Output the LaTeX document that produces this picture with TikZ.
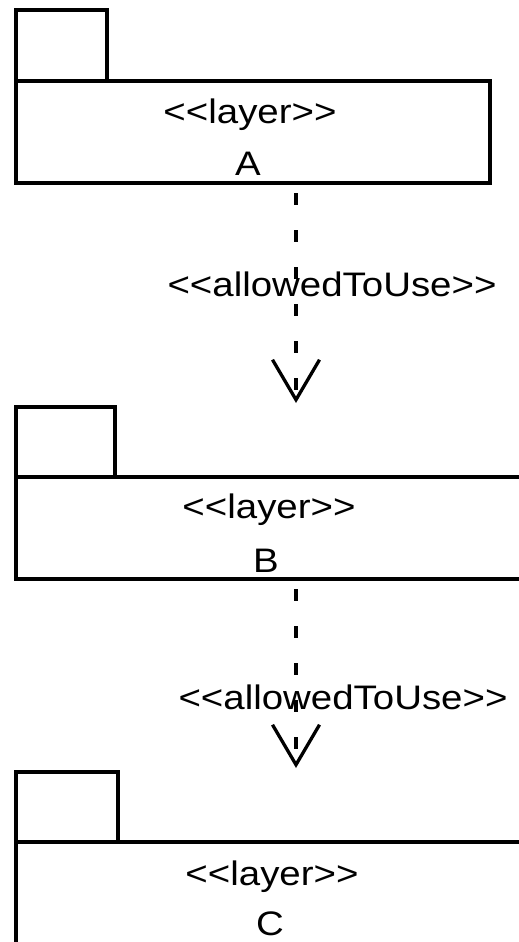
\documentclass[tikz,border=0pt]{standalone}
\usepackage{fontspec}
\newfontfamily\umlfont[FakeStretch=1.13]{Liberation Sans}
\usetikzlibrary{arrows.meta, positioning}
\newcommand{\stype}[1]{\textless\textless#1\textgreater\textgreater}

\begin{document}
\begin{tikzpicture}[
    x=1pt, y=-1pt,
    pkgbody/.style={rectangle, draw=black, line width=3.3pt, minimum height=102pt, inner sep=0pt, outer sep=0pt},
    pkgtab/.style={rectangle, draw=black, line width=3.3pt, minimum height=70pt, inner sep=0pt, outer sep=0pt, anchor=south west},
    pkgtext/.style={font=\umlfont\fontsize{34}{40}\selectfont, inner sep=0pt, anchor=base},
    dep/.style={draw=black, line width=3.3pt, dash pattern=on 12pt off 25pt, dash phase=27pt, -{Straight Barb[length=40pt, width=47pt]}, shorten >=4pt}
  ]
    \useasboundingbox (0,0) rectangle (519,942);
    % packages
    \node[pkgbody, minimum width=474pt] (A) at (253,132) {};
    \node[pkgtab, minimum width=91pt, minimum height=71pt] (Atab) at (A.north west) {};
    \node[pkgtext] (Astereo) at (250,123) {\stype{layer}};
    \node[pkgtext] (Aname) at (248,175) {A};

    \node[pkgbody, minimum width=512pt] (B) at (272,528) {};
    \node[pkgtab, minimum width=99pt] (Btab) at (B.north west) {};
    \node[pkgtext] (Bstereo) at (269,518) {\stype{layer}};
    \node[pkgtext] (Bname) at (266,572) {B};

    \node[pkgbody, minimum width=518pt] (C) at (275,893) {};
    \node[pkgtab, minimum width=102pt] (Ctab) at (C.north west) {};
    \node[pkgtext] (Cstereo) at (272,885) {\stype{layer}};
    \node[pkgtext] (Cname) at (270,935) {C};

    % dependencies
    \coordinate (axis) at (296,0);
    \draw[dep] (A.south -| axis) -- (Btab.north -| axis);
    \draw[dep] (B.south -| axis) -- (Ctab.north -| axis);
    \node[pkgtext] (ABlabel) at (332,296) {\stype{allowedToUse}};
    \node[pkgtext] (BClabel) at (343,709) {\stype{allowedToUse}};
  \end{tikzpicture}
\end{document}
